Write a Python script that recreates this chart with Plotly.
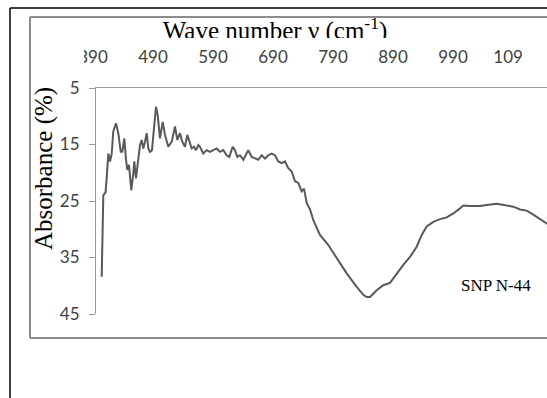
import plotly.graph_objects as go

W, H = 547, 398

wavenumber = [399.5, 400.8, 402.2, 404.2, 405.8, 407.8, 410.5, 413.3, 416.2, 418.8, 423.3, 427.2,
              431.2, 433.8, 437.2, 440, 442.2, 445, 448.8, 452.2, 453.8, 456.7, 460.5, 463.3,
              466.2, 468.8, 471.7, 474.5, 477.2, 480, 483.3, 487.2, 490, 492.8, 496.7, 501.2,
              505, 510.5, 516.2, 521.7, 525.5, 530, 533.8, 538.3, 542.2, 546.7, 549.5, 553.3,
              556.7, 560.5, 563.3, 568.8, 574.5, 580, 585.5, 591.2, 596.7, 602.2, 607.8, 612.2,
              617.8, 621.7, 625.5, 630, 635.5, 643.8, 649.5, 655, 660.5, 666.2, 671.7, 677.2,
              682.8, 688.3, 693.8, 699.5, 705, 710.5, 716.2, 721.7, 727.2, 732.8, 736.7, 741.2,
              746.7, 752.2, 763.3, 777.2, 791.2, 807.8, 824.5, 835.5, 841, 846.7, 857.8, 868.8,
              880, 891.2, 902.2, 913.3, 924.5, 932.8, 941.2, 952.2, 963.3, 974.5, 985.5, 996.7,
              1002.2, 1013.3, 1030, 1041.2, 1057.8, 1074.5, 1085.5, 1096.7, 1107.8, 1118.8,
              1130, 1139.5, 1150]
absorbance = [38.4, 30.0, 24.0, 23.7, 23.5, 21.0, 16.6, 18.0, 16.6, 12.7, 11.25, 13.0,
              16.3, 16.3, 13.9, 17.7, 19.5, 18.6, 23.1, 20.1, 18.0, 21.0, 17.7, 15.1,
              14.2, 15.7, 14.5, 13.0, 15.7, 16.3, 16.0, 10.7, 8.3, 9.8, 13.9, 11.0,
              13.3, 15.4, 14.5, 11.8, 14.2, 13.0, 14.5, 15.4, 13.3, 14.8, 15.7, 15.4,
              16.0, 15.1, 15.4, 16.6, 16.0, 16.3, 16.0, 15.7, 16.3, 16.0, 16.9, 17.2,
              15.4, 16.0, 17.2, 16.9, 17.7, 16.0, 17.2, 17.5, 17.7, 16.9, 17.5, 16.9,
              16.6, 16.9, 18.0, 18.3, 18.0, 19.2, 19.8, 21.5, 21.8, 23.3, 22.8, 25.4,
              26.5, 28.4, 31.0, 32.8, 35.1, 37.8, 40.2, 41.6, 42.0, 42.0, 40.8, 39.9,
              39.5, 37.8, 36.3, 34.9, 33.1, 31.0, 29.5, 28.7, 28.2, 27.9, 27.2, 26.3,
              25.8, 25.9, 25.9, 25.7, 25.5, 25.8, 26.0, 26.5, 26.7, 27.4,
              28.2, 29.0, 29.6]

x_ticks = [390, 490, 590, 690, 790, 890, 990, 1090]
y_ticks = [5, 15, 25, 35, 45]
x_title = "Wave number ν (cm<sup>-1</sup>)"
y_title = "Absorbance (%)"
sample_label = "SNP N-44"


def px(x):
    return x / W


def py(y):
    return 1 - y / H


fig = go.Figure()
fig.add_trace(go.Scatter(x=wavenumber, y=absorbance, mode="lines",
                         line=dict(color="#595959", width=2), showlegend=False,
                         hoverinfo="skip"))
# title text, clipped at its bottom by a thin hidden subplot (as in the original)
fig.add_trace(go.Scatter(x=[275], y=[5], mode="text", text=[x_title],
                         textfont=dict(family="Liberation Serif", size=25, color="#000"),
                         textposition="middle center", cliponaxis=True,
                         xaxis="x2", yaxis="y2", showlegend=False, hoverinfo="skip"))

gray = "#8c8c8c"
tickfont = dict(family="Lato", size=17, color="#404040")
fig.update_layout(
    width=W, height=H, margin=dict(l=0, r=0, t=0, b=0, pad=0, autoexpand=False),
    paper_bgcolor="white", plot_bgcolor="rgba(0,0,0,0)",
    xaxis=dict(domain=[px(96), 1], range=[390, 390 + (W - 96) / 0.6], side="top",
               anchor="y", tickvals=x_ticks, ticks="outside", ticklen=17,
               tickcolor="rgba(0,0,0,0)", showline=True, linecolor="#9a9a9a",
               linewidth=1, showgrid=False, zeroline=False, automargin=False,
               ticklabelshift=-3, tickfont=tickfont),
    yaxis=dict(domain=[py(314), py(88)], range=[45, 5], tickvals=y_ticks,
               ticks="outside", ticklen=6, tickcolor="#9a9a9a", showline=True,
               linecolor="#9a9a9a", linewidth=1, showgrid=False, zeroline=False,
               ticklabelstandoff=6, automargin=False, tickfont=tickfont),
    xaxis2=dict(domain=[0, 1], range=[0, W], visible=False, anchor="y2", automargin=False),
    yaxis2=dict(domain=[py(38), py(17)], range=[0, 21], visible=False, anchor="x2",
                automargin=False),
    shapes=[
        dict(type="line", xref="paper", yref="paper", x0=px(30), x1=1,
             y0=py(17), y1=py(17), line=dict(color=gray, width=2)),
        dict(type="line", xref="paper", yref="paper", x0=px(30), x1=1,
             y0=py(338), y1=py(338), line=dict(color=gray, width=2)),
        dict(type="line", xref="paper", yref="paper", x0=px(30), x1=px(30),
             y0=py(17), y1=py(338), line=dict(color=gray, width=2)),
        dict(type="line", xref="paper", yref="paper", x0=px(10), x1=px(10),
             y0=py(8), y1=0, line=dict(color="#000", width=1.5)),
        dict(type="line", xref="paper", yref="paper", x0=px(10), x1=1,
             y0=py(8), y1=py(8), line=dict(color="#000", width=1.5)),
        # tick labels are cut at both sides in the original
        dict(type="rect", xref="paper", yref="paper", x0=px(40), x1=px(84),
             y0=py(72), y1=py(42), line=dict(width=0), fillcolor="white", layer="above"),
        dict(type="rect", xref="paper", yref="paper", x0=px(522), x1=1,
             y0=py(72), y1=py(42), line=dict(width=0), fillcolor="white", layer="above"),
    ],
    annotations=[
        dict(x=px(44), y=py(169), xref="paper", yref="paper", text=y_title,
             textangle=-90, showarrow=False, xanchor="center", yanchor="middle",
             font=dict(family="Liberation Serif", size=25, color="#000")),
        dict(x=px(496), y=py(285), xref="paper", yref="paper", text=sample_label,
             showarrow=False, xanchor="center", yanchor="middle",
             font=dict(family="Liberation Serif", size=17, color="#000")),
    ],
)

fig.write_html("out.html")
